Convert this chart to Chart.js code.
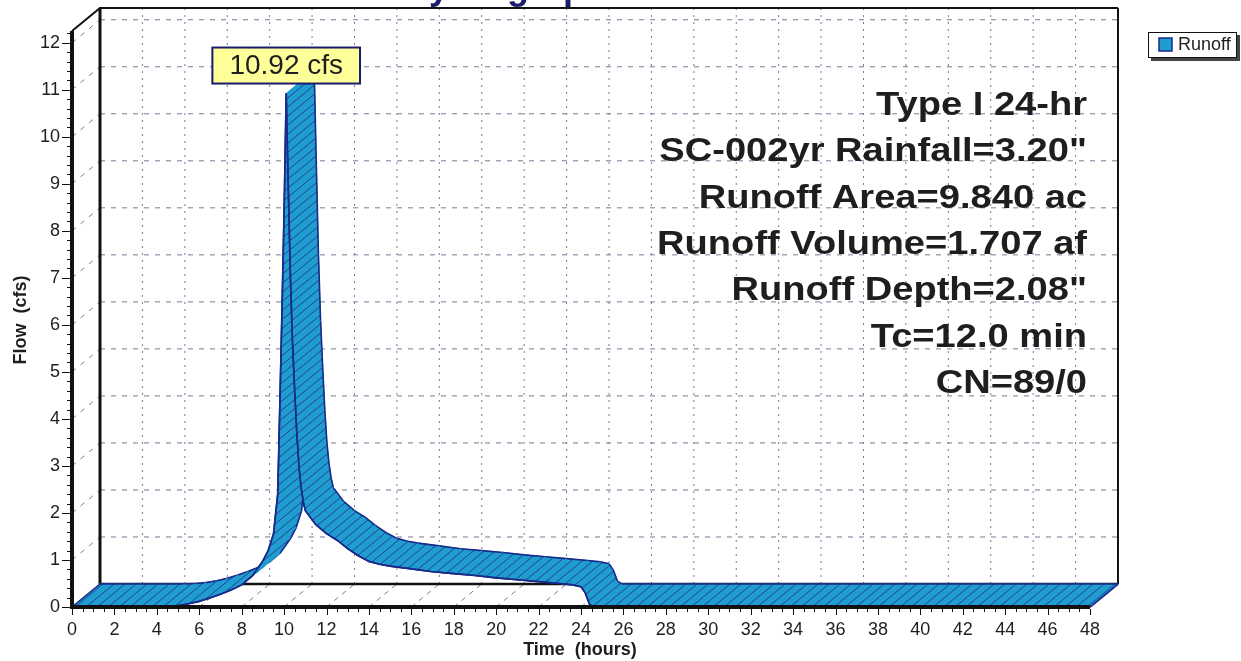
<!DOCTYPE html>
<html>
<head>
<meta charset="utf-8">
<title>Hydrograph</title>
<script src="https://cdn.jsdelivr.net/npm/chart.js@4.4.1/dist/chart.umd.min.js"></script>
<style>
  html, body { margin: 0; padding: 0; background: #fff; }
  canvas { display: block; }
</style>
</head>
<body>
<canvas id="hydro" width="1241" height="661"></canvas>
<script>
// runoff hydrograph, values
var timeHours = [0, 4, 4.5, 5, 5.5, 6, 6.5, 7, 7.5, 8, 8.5, 9, 9.25, 9.5, 9.7, 9.8, 9.9, 10.0, 10.1,
                 10.2, 10.3, 10.4, 10.5, 10.6, 10.7, 10.8, 10.9, 11.0, 11.5, 12, 12.5, 13, 13.5, 14, 14.5,
                 15, 16, 17, 18, 19, 20, 21, 22, 23, 23.6, 24, 24.2, 24.4, 24.6, 48];
var flowCfs   = [0, 0, 0.01, 0.03, 0.07, 0.12, 0.19, 0.27, 0.36, 0.47, 0.66, 0.98, 1.2, 1.55, 2.4, 4.3, 6.3, 8.4, 10.92,
                 8.9, 7.0, 5.6, 4.6, 3.7, 3.0, 2.55, 2.25, 2.05, 1.75, 1.56, 1.42, 1.24, 1.09, 0.97, 0.91,
                 0.87, 0.81, 0.75, 0.71, 0.67, 0.62, 0.58, 0.54, 0.5, 0.47, 0.43, 0.3, 0.06, 0, 0];
var xTicks = [0, 2, 4, 6, 8, 10, 12, 14, 16, 18, 20, 22, 24, 26, 28, 30, 32, 34, 36, 38, 40, 42, 44, 46, 48];
var yTicks = [0, 1, 2, 3, 4, 5, 6, 7, 8, 9, 10, 11, 12];
var peakLabel = '10.92 cfs';
var seriesName = 'Runoff';
var infoLines = ['Type I 24-hr', 'SC-002yr Rainfall=3.20"', 'Runoff Area=9.840 ac',
                 'Runoff Volume=1.707 af', 'Runoff Depth=2.08"', 'Tc=12.0 min', 'CN=89/0'];

var FONT = '"Liberation Sans", Arial, sans-serif';
var DX = 28, DY = -23;          // depth of the 3d box, px
var FILL = '#1f9dcf';
var EDGE = '#1a2a8a';
var INK = '#1e1e1e';
var GRID = '#7a7a96';

function hatch(ctx) {
  var step = 11;
  var w = 28 * step, h = 23 * step;   // tile follows the depth slope so lines join up
  var c = document.createElement('canvas');
  c.width = w; c.height = h;
  var g = c.getContext('2d');
  g.fillStyle = FILL;
  g.fillRect(0, 0, w, h);
  g.strokeStyle = '#22409a';
  g.lineWidth = 1;
  for (var i = -30; i <= 30; i++) {
    g.beginPath();
    g.moveTo(i * step, h);
    g.lineTo(i * step + w, 0);
    g.stroke();
  }
  return ctx.createPattern(c, 'repeat');
}

function line(ctx, x1, y1, x2, y2) {
  ctx.beginPath();
  ctx.moveTo(x1, y1);
  ctx.lineTo(x2, y2);
  ctx.stroke();
}

var box3d = {
  id: 'box3d',
  beforeDatasetsDraw: function (chart) {
    var ctx = chart.ctx, a = chart.chartArea;
    var xs = chart.scales.x, ys = chart.scales.y;
    ctx.save();

    // back wall grid, side wall and floor guides
    ctx.strokeStyle = GRID;
    ctx.lineWidth = 1;
    ctx.setLineDash([5, 6]);
    yTicks.forEach(function (v) {
      if (v === 0) return;
      var py = ys.getPixelForValue(v);
      line(ctx, a.left + DX, py + DY, a.right + DX, py + DY);
      line(ctx, a.left, py, a.left + DX, py + DY);
    });
    ctx.setLineDash([2, 5]);
    xTicks.forEach(function (t) {
      if (t === 0 || t === 48) return;
      var px = xs.getPixelForValue(t);
      line(ctx, px + DX, a.top + DY, px + DX, a.bottom + DY);
    });
    ctx.setLineDash([5, 5]);
    xTicks.forEach(function (t) {
      if (t === 0 || t === 48) return;
      var px = xs.getPixelForValue(t);
      line(ctx, px, a.bottom, px + DX, a.bottom + DY);
    });
    ctx.setLineDash([]);

    // frame
    ctx.strokeStyle = '#111';
    ctx.lineWidth = 3;
    line(ctx, a.left + DX, a.top + DY, a.left + DX, a.bottom + DY);
    ctx.lineWidth = 2.5;
    line(ctx, a.left + DX, a.bottom + DY, a.right + DX, a.bottom + DY);
    ctx.lineWidth = 2;
    line(ctx, a.left + DX - 1, a.top + DY, a.right + DX, a.top + DY);
    line(ctx, a.right + DX, a.top + DY, a.right + DX, a.bottom + DY);
    line(ctx, a.left, a.top, a.left + DX, a.top + DY);
    ctx.strokeStyle = EDGE;
    line(ctx, a.right, a.bottom, a.right + DX, a.bottom + DY);

    // ribbon: one quad per step, drawn left to right so later ones hide earlier edges
    var pts = chart.getDatasetMeta(0).data;
    var pat = hatch(ctx);
    ctx.lineJoin = 'round';
    for (var i = 0; i < pts.length - 1; i++) {
      var f0 = pts[i], f1 = pts[i + 1];
      ctx.beginPath();
      ctx.moveTo(f0.x, f0.y);
      ctx.lineTo(f1.x, f1.y);
      ctx.lineTo(f1.x + DX, f1.y + DY);
      ctx.lineTo(f0.x + DX, f0.y + DY);
      ctx.closePath();
      ctx.fillStyle = pat;
      ctx.fill();
      ctx.strokeStyle = pat;
      ctx.lineWidth = 1;
      ctx.stroke();
      ctx.strokeStyle = EDGE;
      ctx.lineWidth = 1.6;
      ctx.beginPath();
      ctx.moveTo(f0.x, f0.y);
      ctx.lineTo(f1.x, f1.y);
      ctx.moveTo(f0.x + DX, f0.y + DY);
      ctx.lineTo(f1.x + DX, f1.y + DY);
      ctx.stroke();
    }
    var p0 = pts[0], pn = pts[pts.length - 1];
    line(ctx, p0.x, p0.y, p0.x + DX, p0.y + DY);
    line(ctx, pn.x, pn.y, pn.x + DX, pn.y + DY);
    ctx.restore();
  },
  afterDatasetsDraw: function (chart) {
    var ctx = chart.ctx, a = chart.chartArea;
    var xs = chart.scales.x, ys = chart.scales.y;
    ctx.save();

    // front axes and tick marks
    ctx.strokeStyle = '#111';
    ctx.lineWidth = 4;
    line(ctx, a.left, a.top, a.left, a.bottom + 2);
    line(ctx, a.left - 2, a.bottom, a.right, a.bottom);
    ctx.lineWidth = 1;
    for (var k = 0; k <= 61; k++) {
      var py = Math.round(ys.getPixelForValue(k * 0.2)) + 0.5;
      line(ctx, a.left - 2, py, a.left - (k % 5 === 0 ? 10 : 5), py);
    }
    for (var j = 0; j <= 96; j++) {
      var px = Math.round(xs.getPixelForValue(j * 0.5)) + 0.5;
      line(ctx, px, a.bottom + 2, px, a.bottom + (j % 4 === 0 ? 8 : 5));
    }

    // peak callout
    var pts = chart.getDatasetMeta(0).data;
    var peak = pts[flowCfs.indexOf(Math.max.apply(null, flowCfs))];
    ctx.font = '28px ' + FONT;
    var w = ctx.measureText(peakLabel).width + 34, h = 36;
    var bx = peak.x - w / 2, by = peak.y - 10 - h;
    ctx.fillStyle = '#ffff99';
    ctx.fillRect(bx, by, w, h);
    ctx.strokeStyle = '#1a1a6a';
    ctx.lineWidth = 2;
    ctx.strokeRect(bx, by, w, h);
    ctx.fillStyle = INK;
    ctx.textAlign = 'center';
    ctx.textBaseline = 'middle';
    ctx.fillText(peakLabel, peak.x, by + h / 2 + 1);

    // storm summary, the scan's lettering runs a bit wide
    ctx.font = 'bold 34px ' + FONT;
    ctx.textAlign = 'right';
    ctx.textBaseline = 'alphabetic';
    infoLines.forEach(function (s, i) {
      ctx.save();
      ctx.translate(1087, 115 + i * 46.3);
      ctx.scale(1.12, 1);
      ctx.fillText(s, 0, 0);
      ctx.restore();
    });

    // legend
    ctx.fillStyle = '#444';
    ctx.fillRect(1151, 35, 89, 26);
    ctx.fillStyle = '#fff';
    ctx.fillRect(1148, 32, 89, 26);
    ctx.strokeStyle = '#111';
    ctx.lineWidth = 1;
    ctx.strokeRect(1148.5, 32.5, 88, 25);
    ctx.fillStyle = FILL;
    ctx.fillRect(1159, 38, 13, 13);
    ctx.strokeStyle = EDGE;
    ctx.lineWidth = 1.5;
    ctx.strokeRect(1159, 38, 13, 13);
    ctx.fillStyle = INK;
    ctx.font = '18px ' + FONT;
    ctx.textAlign = 'left';
    ctx.textBaseline = 'middle';
    ctx.fillText(seriesName, 1178, 45);

    // axis titles and the clipped chart title
    ctx.font = 'bold 18px ' + FONT;
    ctx.textAlign = 'center';
    ctx.fillText('Time  (hours)', 580, 650);
    ctx.save();
    ctx.translate(21, 320);
    ctx.rotate(-Math.PI / 2);
    ctx.fillText('Flow  (cfs)', 0, 0);
    ctx.restore();
    ctx.fillStyle = '#1c1c6c';
    ctx.font = 'bold 36px ' + FONT;
    ctx.textBaseline = 'alphabetic';
    ctx.fillText('Hydrograph', 505, -1);
    ctx.restore();
  }
};

new Chart(document.getElementById('hydro'), {
  type: 'line',
  data: {
    datasets: [{
      label: seriesName,
      data: timeHours.map(function (t, i) { return { x: t, y: flowCfs[i] }; }),
      borderColor: EDGE,
      borderWidth: 1.6,
      pointRadius: 0,
      fill: false,
      tension: 0,
      clip: false
    }]
  },
  plugins: [box3d],
  options: {
    responsive: false,
    animation: false,
    devicePixelRatio: 1,
    layout: { padding: { left: 0, right: 151, top: 31, bottom: 0 } },
    plugins: { legend: { display: false }, tooltip: { enabled: false } },
    scales: {
      x: {
        type: 'linear',
        min: 0, max: 48,
        grid: { display: false, drawTicks: false },
        border: { display: false },
        afterBuildTicks: function (s) { s.ticks = xTicks.map(function (v) { return { value: v }; }); },
        afterFit: function (s) { s.height = 54; },
        ticks: { color: INK, padding: 12, maxRotation: 0, autoSkip: false, font: { size: 18, family: FONT } }
      },
      y: {
        min: 0, max: 12.25,
        grid: { display: false, drawTicks: false },
        border: { display: false },
        afterBuildTicks: function (s) { s.ticks = yTicks.map(function (v) { return { value: v }; }); },
        afterFit: function (s) { s.width = 72; },
        ticks: { color: INK, padding: 12, font: { size: 18, family: FONT } }
      }
    }
  }
});
</script>
</body>
</html>
